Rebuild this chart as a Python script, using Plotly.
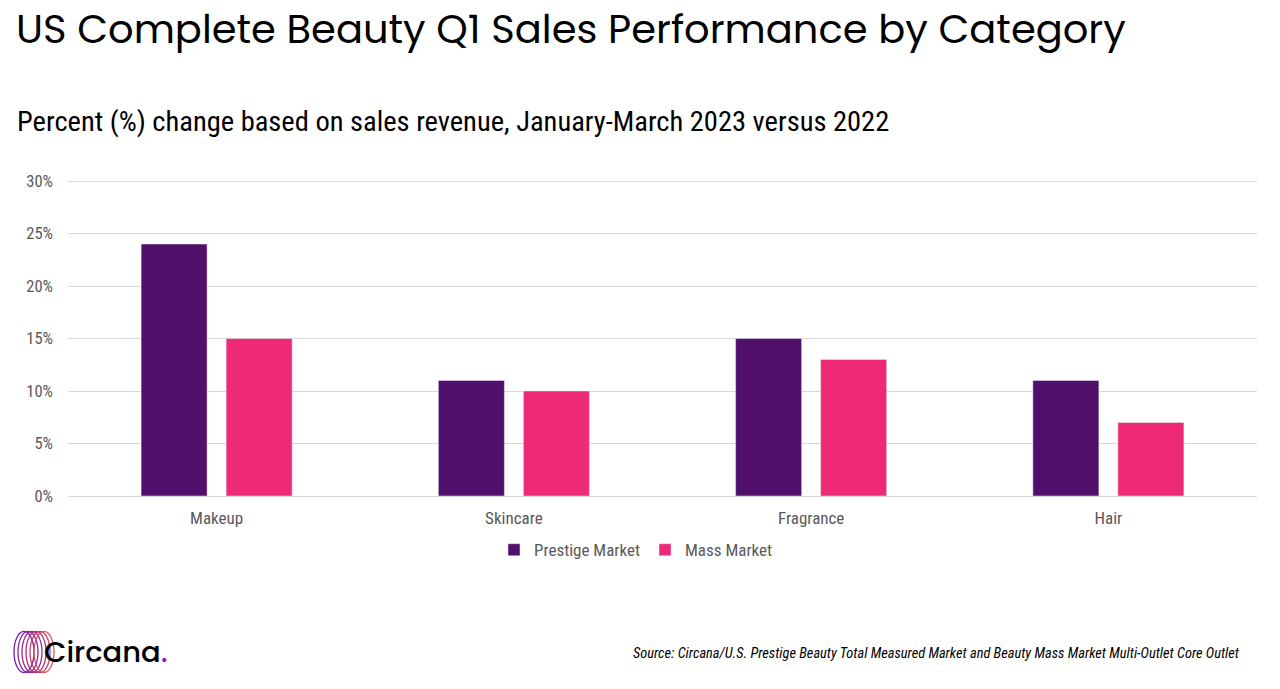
import plotly.graph_objects as go

categories = ["Makeup", "Skincare", "Fragrance", "Hair"]
prestige = [24, 11, 15, 11]
mass = [15, 10, 13, 7]
y_ticks = [0, 5, 10, 15, 20, 25, 30]
y_ticktext = ["0%", "5%", "10%", "15%", "20%", "25%", "30%"]

TITLE = "US Complete Beauty Q1 Sales Performance by Category"
SUBTITLE = "Percent (%) change based on sales revenue, January-March 2023 versus 2022"
SOURCE = "Source: Circana/U.S. Prestige Beauty Total Measured Market and Beauty Mass Market Multi-Outlet Core Outlet"

cond = "Roboto Condensed, Liberation Sans Narrow, Roboto, sans-serif"

W, H = 1280, 689
# plot area in pixels: x 68..1257, y 181..496
L, T = 68, 181
R, B = W - 1257, H - 496
pw, ph = W - L - R, H - T - B


def px(x):
    return (x - L) / pw


def py(y):
    return (H - B - y) / ph


fig = go.Figure()
fig.add_trace(go.Bar(x=categories, y=prestige, name="Prestige Market",
                     marker_color="#4f0f6b"))
fig.add_trace(go.Bar(x=categories, y=mass, name="Mass Market",
                     marker_color="#ee2a77"))

fig.update_layout(
    width=W, height=H,
    margin=dict(l=L, r=R, t=T - 1, b=B),
    plot_bgcolor="white", paper_bgcolor="white",
    barmode="group", bargap=0.428, bargroupgap=0.2235,
    font=dict(family="Roboto", color="#595959", size=15),
    showlegend=True,
    legend=dict(orientation="h", x=px(636), xanchor="center", y=py(550), yanchor="middle",
                font=dict(family=cond, size=17, color="#595959"),
                itemwidth=30, traceorder="normal"),
    xaxis=dict(showgrid=False, showline=False, ticks="", ticklabelstandoff=10,
               tickfont=dict(family=cond, size=17, color="#595959")),
    yaxis=dict(range=[0, 30.1], tickvals=y_ticks, ticktext=y_ticktext,
               showgrid=True, gridcolor="#d9d9d9", gridwidth=1, zeroline=True,
               zerolinecolor="#d9d9d9", zerolinewidth=1,
               tickfont=dict(family=cond, size=16.5, color="#595959"), ticklabelstandoff=14),
)

fig.add_annotation(text=TITLE, xref="paper", yref="paper", x=px(14), y=py(30),
                   xanchor="left", yanchor="middle", showarrow=False,
                   font=dict(family="Poppins, Inter, sans-serif", size=40, color="black"))
fig.add_annotation(text=SUBTITLE, xref="paper", yref="paper", x=px(15), y=py(123),
                   xanchor="left", yanchor="middle", showarrow=False,
                   font=dict(family=cond, size=28.5, color="black"))
fig.add_annotation(text="<i>" + SOURCE + "</i>", xref="paper", yref="paper", x=px(1242), y=py(653),
                   xanchor="right", yanchor="middle", showarrow=False,
                   font=dict(family=cond, size=14.4, color="black"))

# logo
ring_colors = ["#7b1fa2", "#8e24aa", "#a0278f", "#b52c7e", "#cc3a6e", "#e0565d"]
for i, c in enumerate(ring_colors):
    x0 = 14 + i * 4
    fig.add_shape(type="circle", xref="paper", yref="paper",
                  x0=px(x0), x1=px(x0 + 20), y0=py(672), y1=py(631),
                  line=dict(color=c, width=1.3))
fig.add_annotation(text="Circana<span style='color:#8e1cc4'>.</span>", xref="paper", yref="paper",
                   x=px(42), y=py(652), xanchor="left", yanchor="middle", showarrow=False,
                   font=dict(family="Poppins, Inter, sans-serif", size=29, color="black",
                             weight=500))

# drop the default body margin so the figure sits at the page corner
fig.write_html("out.html", config={"displayModeBar": False},
               post_script="document.body.style.margin='0px';")
